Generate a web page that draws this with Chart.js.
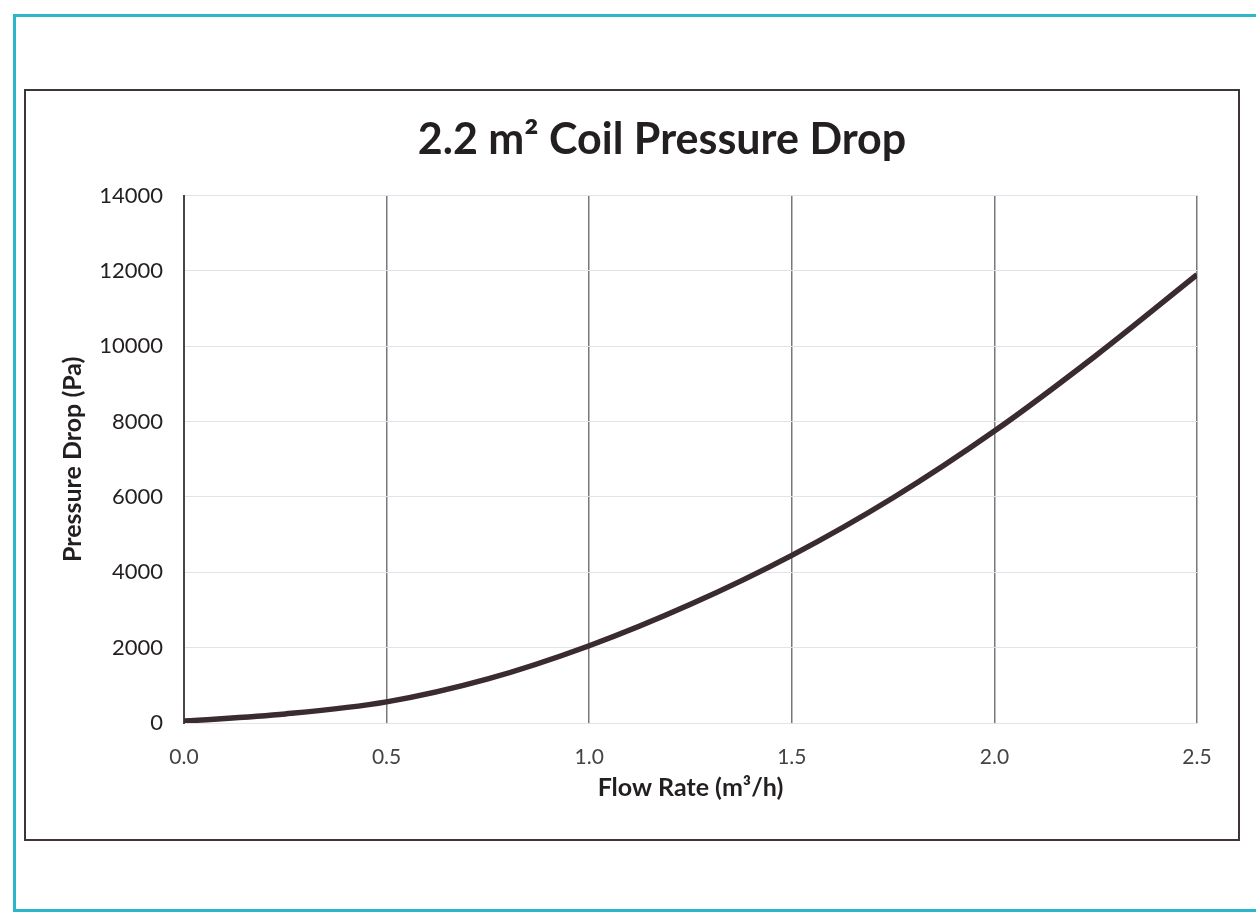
<!DOCTYPE html>
<html>
<head>
<meta charset="utf-8">
<script src="https://cdn.jsdelivr.net/npm/chart.js@4.4.1/dist/chart.umd.min.js"></script>
<style>
  html, body { margin: 0; padding: 0; background: #fff; }
  body { width: 1256px; height: 913px; position: relative; overflow: hidden; }
  /* cadre cyan de la page */
  #cadre { position: absolute; left: 13px; top: 14px; right: -20px; height: 892px; border: 3px solid #2bb6cc; }
  /* encadré du graphique */
  #boite { position: absolute; left: 24px; top: 89px; width: 1212px; height: 748px; border: 2px solid #3d3539; }
  #myChart { position: absolute; left: 0; top: 0; }
</style>
</head>
<body>
<div id="cadre"></div>
<div id="boite"></div>
<canvas id="myChart" width="1256" height="913"></canvas>
<script>
const ctx = document.getElementById('myChart').getContext('2d');

// --- DONNÉES ---
const debit = [0, 0.25, 0.5, 0.75, 1.0, 1.25, 1.5, 1.75, 2.0, 2.25, 2.5];          // m3/h
const perteCharge = [50, 240, 560, 1170, 2050, 3150, 4450, 5980, 7750, 9750, 11900]; // Pa

const titre = '2.2 m\u00B2 Coil Pressure Drop';
const titreX = 'Flow Rate (m\u00B3/h)';
const titreY = 'Pressure Drop (Pa)';

const police = "Lato, 'Open Sans', sans-serif";

const points = debit.map((x, i) => ({ x: x, y: perteCharge[i] }));

// le titre n'est pas centré sur toute la largeur : on décale son bloc vers la droite
const decalageTitre = {
    id: 'decalageTitre',
    afterLayout(chart) {
        if (chart.titleBlock) chart.titleBlock.left += 69;
    }
};

const config = {
    type: 'scatter',
    data: {
        datasets: [{
            label: titreY,
            data: points,
            showLine: true,
            borderColor: '#3a2b2f',
            borderWidth: 5.5,
            pointRadius: 0,
            cubicInterpolationMode: 'monotone',
            fill: false
        }]
    },
    options: {
        responsive: false,
        animation: false,
        layout: { padding: { left: 58, right: 59, top: 0, bottom: 110 } },
        scales: {
            x: {
                type: 'linear',
                min: 0, max: 2.5,
                afterFit: (s) => { s.height = 80; },
                border: { color: '#e2e2ea', width: 1 },
                grid: { color: '#78787c', lineWidth: 1.5, drawTicks: false },
                ticks: {
                    stepSize: 0.5,
                    padding: 22,
                    color: '#444',
                    font: { family: police, size: 21 },
                    callback: (v) => v.toFixed(1)
                },
                title: {
                    display: true,
                    text: titreX,
                    color: '#231f20',
                    padding: 0,
                    font: { family: police, size: 25, weight: 'bold' }
                }
            },
            y: {
                min: 0, max: 14000,
                afterFit: (s) => { s.width = 126; },
                border: { color: '#4a4448', width: 2 },
                grid: { color: '#e2e2ea', lineWidth: 1, drawTicks: false },
                ticks: {
                    stepSize: 2000,
                    padding: 21,
                    color: '#231f20',
                    font: { family: police, size: 22 },
                    callback: (v) => String(v)
                },
                title: {
                    display: true,
                    text: titreY,
                    color: '#231f20',
                    padding: 0,
                    font: { family: police, size: 25, weight: 'bold' }
                }
            }
        },
        plugins: {
            legend: { display: false },
            tooltip: { enabled: false },
            title: {
                display: true,
                text: titre,
                color: '#231f20',
                padding: { top: 114, bottom: 30 },
                font: { family: police, size: 43, weight: 'bold' }
            }
        }
    },
    plugins: [decalageTitre]
};

const myChart = new Chart(ctx, config);
</script>
</body>
</html>
